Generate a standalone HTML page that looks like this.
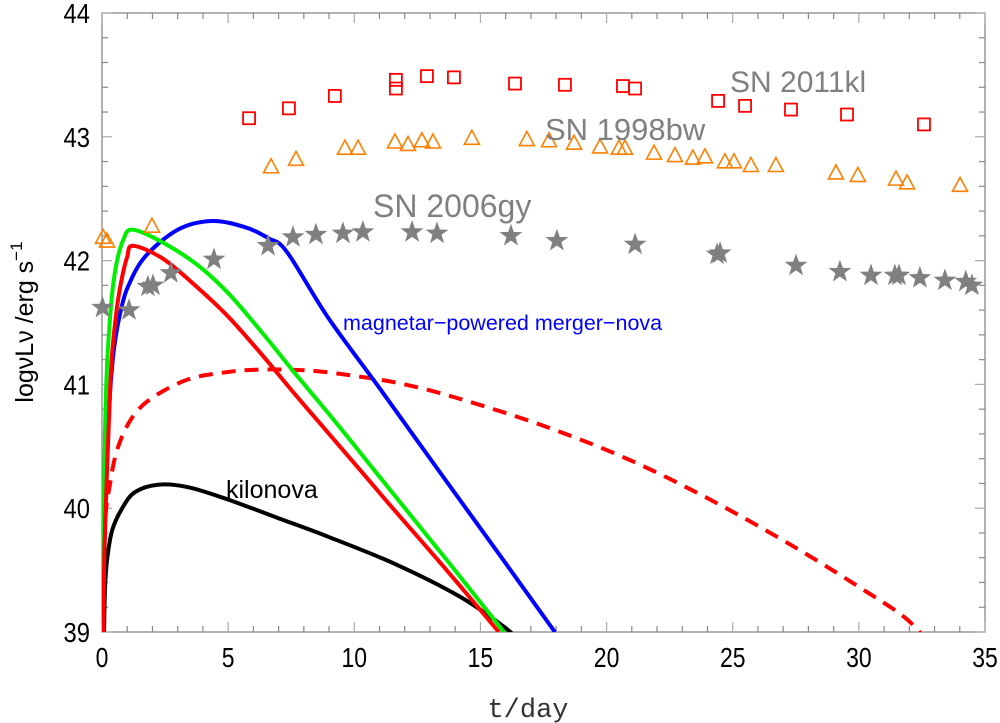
<!DOCTYPE html>
<html><head><meta charset="utf-8"><style>
html,body{margin:0;padding:0;background:#fff;}
svg{display:block;font-family:"Liberation Sans",sans-serif;}
</style></head><body>
<svg id="chart" width="1000" height="723" viewBox="0 0 1000 723">
<g id="frame"></g>
<g id="series"></g>
<g id="labels">
<text x="730" y="92" font-size="30" fill="#808080">SN 2011kl</text>
<text x="545" y="140" font-size="31" fill="#808080">SN 1998bw</text>
<text x="373" y="217" font-size="32" fill="#808080">SN 2006gy</text>
<text x="343" y="330" font-size="21.5" fill="#0000ff">magnetar−powered merger−nova</text>
<text x="226" y="498" font-size="25" fill="#000">kilonova</text>
<text x="528" y="717" font-size="27" text-anchor="middle" font-family="Liberation Mono, monospace" fill="#333">t/day</text>
<text transform="translate(33,322) rotate(-90)" font-size="25" text-anchor="middle" fill="#000">logνLν /erg s<tspan dy="-11" font-size="17">−1</tspan></text>
</g>
</svg>
<script>
const xTicks=[0,5,10,15,20,25,30,35];
const yTicks=[39,40,41,42,43,44];
const sn2011klT=[5.83,7.41,9.23,11.65,11.65,12.88,13.95,16.37,18.35,20.65,21.13,24.42,25.49,27.31,29.53,32.58];
const sn2011klL=[43.15,43.23,43.33,43.46,43.39,43.49,43.48,43.43,43.42,43.41,43.39,43.29,43.25,43.22,43.18,43.10];
const sn1998bwT=[0.04,0.2,1.98,6.70,7.69,9.63,10.15,11.61,12.13,12.68,13.12,14.66,16.84,17.72,18.71,19.74,20.49,20.73,21.88,22.71,23.42,23.90,24.69,25.05,25.72,26.71,29.09,29.96,31.47,31.91,34.01];
const sn1998bwL=[42.18,42.15,42.27,42.75,42.81,42.90,42.90,42.95,42.93,42.96,42.95,42.98,42.97,42.96,42.94,42.91,42.90,42.90,42.86,42.84,42.82,42.83,42.79,42.79,42.76,42.76,42.70,42.68,42.65,42.62,42.60];
const sn2006gyT=[0.02,1.07,1.82,2.02,2.73,4.44,6.58,7.57,8.48,9.55,10.34,12.29,13.28,16.21,18.03,21.13,24.38,24.5,27.51,29.25,30.48,31.43,31.59,32.42,33.41,34.24,34.48];
const sn2006gyL=[41.62,41.60,41.79,41.80,41.90,42.01,42.12,42.19,42.21,42.22,42.23,42.23,42.22,42.20,42.16,42.13,42.05,42.06,41.96,41.91,41.88,41.88,41.88,41.86,41.84,41.83,41.80];
const greenT=[0.02,0.06,0.12,0.2,0.32,0.45,0.63,0.85,1.15,2.10,3.69,4.99,6.34,7.65,8.96,10.31,11.61,13.79,15.93];
const greenL=[39.0,39.9,40.61,41.15,41.54,41.82,42.03,42.17,42.25,42.18,41.98,41.74,41.42,41.09,40.77,40.43,40.10,39.55,39.0];
const redT=[0.05,0.1,0.2,0.3,0.4,0.6,0.8,1.0,1.23,2.38,3.69,4.99,6.34,7.65,8.96,10.31,11.61,13.7,15.73];
const redL=[39.0,39.7,40.3,40.85,41.25,41.63,41.87,42.03,42.12,42.02,41.80,41.55,41.24,40.92,40.61,40.29,39.98,39.49,39.0];
const blueT=[0.05,0.12,0.24,0.36,0.51,0.75,1.03,1.70,3.01,4.36,5.67,6.6,7.33,8.96,11.0,13.5,15.7,17.95];
const blueL=[39.0,39.9,40.61,41.05,41.34,41.6,41.79,42.03,42.25,42.32,42.27,42.18,42.07,41.54,40.97,40.26,39.64,39.0];
const dashT=[0.08,0.12,0.32,0.63,1.19,1.98,3.41,4.99,6.34,8.32,10.31,12.0,14.07,17.44,20.8,24.1,27.5,30.5,31.8,32.5];
const dashL=[39.0,39.85,40.2,40.49,40.73,40.89,41.04,41.10,41.12,41.11,41.06,41.0,40.89,40.67,40.40,40.07,39.68,39.3,39.12,38.98];
const kiloT=[0.08,0.12,0.2,0.4,0.8,1.31,2.22,3.41,4.99,6.98,8.96,11.61,14.15,15.82,16.4];
const kiloL=[39.0,39.35,39.58,39.82,40.0,40.13,40.19,40.17,40.07,39.92,39.77,39.55,39.29,39.06,38.96];

const X0=102,X1=985,Y0=632,Y1=13;
function sx(t){return X0+(t-0)/(35-0)*(X1-X0);}
function sy(v){return Y0-(v-39)/(44-39)*(Y0-Y1);}
const NS='http://www.w3.org/2000/svg';
function mk(tag,attrs,parent){const e=document.createElementNS(NS,tag);for(const k in attrs)e.setAttribute(k,attrs[k]);parent.appendChild(e);return e;}
const frame=document.getElementById('frame'),series=document.getElementById('series');

const clip=mk('clipPath',{id:'pc'},frame);
mk('rect',{x:X0,y:Y1,width:X1-X0,height:Y0-Y1},clip);

const box=mk('rect',{x:X0,y:Y1,width:X1-X0,height:Y0-Y1,fill:'none',stroke:'#888','stroke-width':1.3},frame);



for(let i=0;i<=35;i++){
  const x=sx(i),maj=i%5===0,L=maj?10:6,c=maj?'#aaa':'#888';
  const a=mk('line',{x1:x,x2:x,y1:Y0,y2:Y0-L,stroke:c,'stroke-width':1.2},frame);
  
  
  const b=mk('line',{x1:x,x2:x,y1:Y1,y2:Y1+L,stroke:c,'stroke-width':1.2},frame);
  
  
}
for(let i=0;i<=25;i++){
  const v=39+i*0.2,y=sy(v),maj=i%5===0,L=maj?10:6,c=maj?'#aaa':'#888';
  const a=mk('line',{x1:X0,x2:X0+L,y1:y,y2:y,stroke:c,'stroke-width':1.2},frame);
  
  
  const b=mk('line',{x1:X1,x2:X1-L,y1:y,y2:y,stroke:c,'stroke-width':1.2},frame);
  
  
}
xTicks.forEach(t=>{
  const e=mk('text',{x:sx(t),y:667,'font-size':28,'text-anchor':'middle',fill:'#000',transform:`translate(${sx(t)},0) scale(0.82,1) translate(${-sx(t)},0)`},frame);
  e.textContent=t;
  
  
});
yTicks.forEach(v=>{
  const e=mk('text',{x:90,y:sy(v)+10,'font-size':28,'text-anchor':'end',fill:'#000',transform:`translate(90,0) scale(0.85,1) translate(-90,0)`},frame);
  e.textContent=v;
  
  
});

const lg=mk('g',{'clip-path':'url(#pc)'},series);
function curve(T,Lv,color,name,dash){
  const P=T.map((t,i)=>[sx(t),sy(Lv[i])]);
  let d='M'+P[0][0].toFixed(1)+','+P[0][1].toFixed(1);
  for(let i=0;i<P.length-1;i++){
    const p0=P[Math.max(0,i-1)],p1=P[i],p2=P[i+1],p3=P[Math.min(P.length-1,i+2)];
    const c1=[p1[0]+(p2[0]-p0[0])/6,p1[1]+(p2[1]-p0[1])/6];
    const c2=[p2[0]-(p3[0]-p1[0])/6,p2[1]-(p3[1]-p1[1])/6];
    d+='C'+c1[0].toFixed(1)+','+c1[1].toFixed(1)+' '+c2[0].toFixed(1)+','+c2[1].toFixed(1)+' '+p2[0].toFixed(1)+','+p2[1].toFixed(1);
  }
  const p=mk('path',{d:d,fill:'none',stroke:color,'stroke-width':4,'stroke-linejoin':'round'},lg);
  if(dash)p.setAttribute('stroke-dasharray','14,9');
  
  
}
curve(dashT,dashL,'#ff0000','dashed-red-curve',true);
curve(kiloT,kiloL,'#000000','kilonova-curve');
curve(blueT,blueL,'#0000ff','merger-nova-curve');
curve(greenT,greenL,'#00ee00','green-curve');
curve(redT,redL,'#ff0000','red-curve');

function starPath(cx,cy,R){const r=R*0.4;let d='';for(let k=0;k<10;k++){const a=-Math.PI/2+k*Math.PI/5,rr=k%2?r:R;d+=(k?'L':'M')+(cx+rr*Math.cos(a)).toFixed(1)+','+(cy+rr*Math.sin(a)).toFixed(1);}return d+'Z';}
sn2011klT.forEach((t,i)=>{
  const e=mk('rect',{x:sx(t)-6,y:sy(sn2011klL[i])-6,width:12,height:12,fill:'none',stroke:'#ff0000','stroke-width':1.8},series);
  
  
});
sn1998bwT.forEach((t,i)=>{
  const x=sx(t),y=sy(sn1998bwL[i]);
  const e=mk('path',{d:`M${x},${y-9}L${x+7.5},${y+5}L${x-7.5},${y+5}Z`,fill:'none',stroke:'#ff7f00','stroke-width':1.6},series);
  
  
});
sn2006gyT.forEach((t,i)=>{
  const e=mk('path',{d:starPath(sx(t),sy(sn2006gyL[i]),12),fill:'#808080'},series);
  
  
});
</script>
</body></html>
